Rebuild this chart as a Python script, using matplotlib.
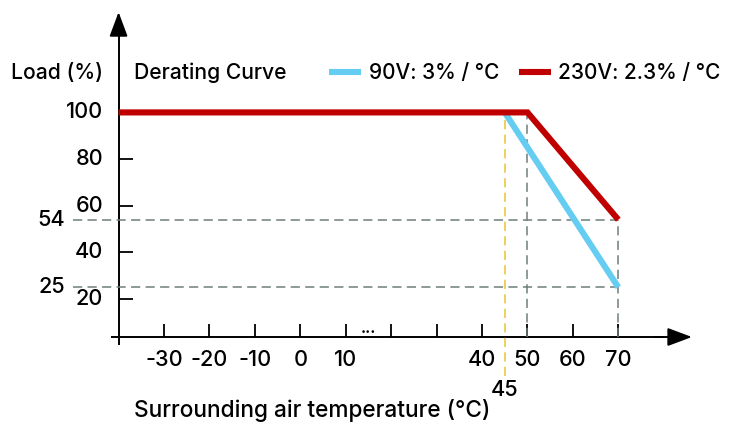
import numpy as np
import matplotlib
matplotlib.use("Agg")
import matplotlib.pyplot as plt

plt.rcParams['font.family'] = ['Inter', 'DejaVu Sans']
plt.rcParams['font.weight'] = 'medium'

# derating curves (temperature in degC, load in %)
temp_230 = [-40, 50, 70]
load_230 = [100, 100, 54]
temp_90 = [45, 70]
load_90 = [100, 25]

xticks = [-30, -20, -10, 0, 10, 20, 30, 40, 50, 60, 70]
xlabels = ['-30', '-20', '-10', '0', '10', '', '', '40', '50', '60', '70']
yticks = [20, 40, 60, 80]
ylabels_main = ['100', '80', '60', '40', '20']
yvals_main = [100, 80, 60, 40, 20]
marks_y = [54, 25]
mark_x = 45

red = '#c00000'
blue = '#66cdf2'
gray = '#6f7f7c'
yellow = '#eac234'

fig = plt.figure(figsize=(7.34, 4.24), dpi=100)
ax = fig.add_axes([0, 0, 1, 1])
ax.set_xlim(-66.1, 95.46)
ax.set_ylim(-33.6, 148.2)
ax.axis('off')

x0 = -40     # y axis position
y0 = 3.7     # x axis position

# axes with arrows
arrow = dict(arrowstyle='-|>,head_length=0.75,head_width=0.28',
             mutation_scale=20, color='black', lw=1.4,
             shrinkA=0, shrinkB=0, patchA=None, patchB=None)
ax.plot([-41.6, 80], [y0, y0], color='black', lw=1.4, solid_capstyle='butt')
ax.annotate('', xy=(86.2, y0), xytext=(78, y0), arrowprops=arrow)
ax.plot([x0, x0], [0.2, 136], color='black', lw=1.4, solid_capstyle='butt')
ax.annotate('', xy=(x0, 143), xytext=(x0, 133), arrowprops=arrow)

# ticks
ax.vlines(xticks, y0, y0 + 5.6, color='black', lw=1.3)
ax.hlines(yticks, x0, x0 + 3.1, color='black', lw=1.3)

# guide lines
dash = dict(lw=1.1, dashes=(6, 3.5))
for v in marks_y:
    ax.plot([-50, 70], [v, v], color=gray, **dash)
ax.plot([50, 50], [y0, 100], color=gray, **dash)
ax.plot([70, 70], [y0, 54], color=gray, **dash)
ax.plot([mark_x, mark_x], [-13, 100], color=yellow, **dash)

# curves
l90, = ax.plot(temp_90, load_90, color=blue, lw=4.4, solid_capstyle='butt',
               label='90V: 3% / °C', zorder=4)
l230, = ax.plot(temp_230, load_230, color=red, lw=4.4, solid_capstyle='butt',
                solid_joinstyle='miter', label='230V: 2.3% / °C', zorder=5)

fs = 15.6
# tick labels
for t, lab in zip(xticks, xlabels):
    if lab:
        ax.text(t, -6.2, lab, ha='center', va='center', fontsize=fs)
ax.text(mark_x, -19, str(mark_x), ha='center', va='center', fontsize=fs)
ax.text(15, 7.3, '...', ha='center', va='center', fontsize=11, fontweight='bold')
for v, lab in zip(yvals_main, ylabels_main):
    ax.text(-43.4, v, lab, ha='right', va='center', fontsize=fs)
for v in marks_y:
    ax.text(-51.8, v, str(v), ha='right', va='center', fontsize=fs)

ax.text(-43.4, 116.9, 'Load (%)', ha='right', va='center', fontsize=15.2)
ax.text(-36.7, 116.9, 'Derating Curve', ha='left', va='center', fontsize=15.2)
ax.text(-36.7, -27.6, 'Surrounding air temperature (°C)', ha='left', va='center',
        fontsize=16.3)

leg = ax.legend(handles=[l90, l230], loc='center left', ncol=2,
                bbox_to_anchor=(329 / 734, 1 - 73 / 424), frameon=False,
                prop=dict(size=15.0, weight='medium'), handlelength=1.55,
                handletextpad=0.35, columnspacing=0.95, borderpad=0,
                borderaxespad=0)

fig.savefig('out.png', dpi=100)
